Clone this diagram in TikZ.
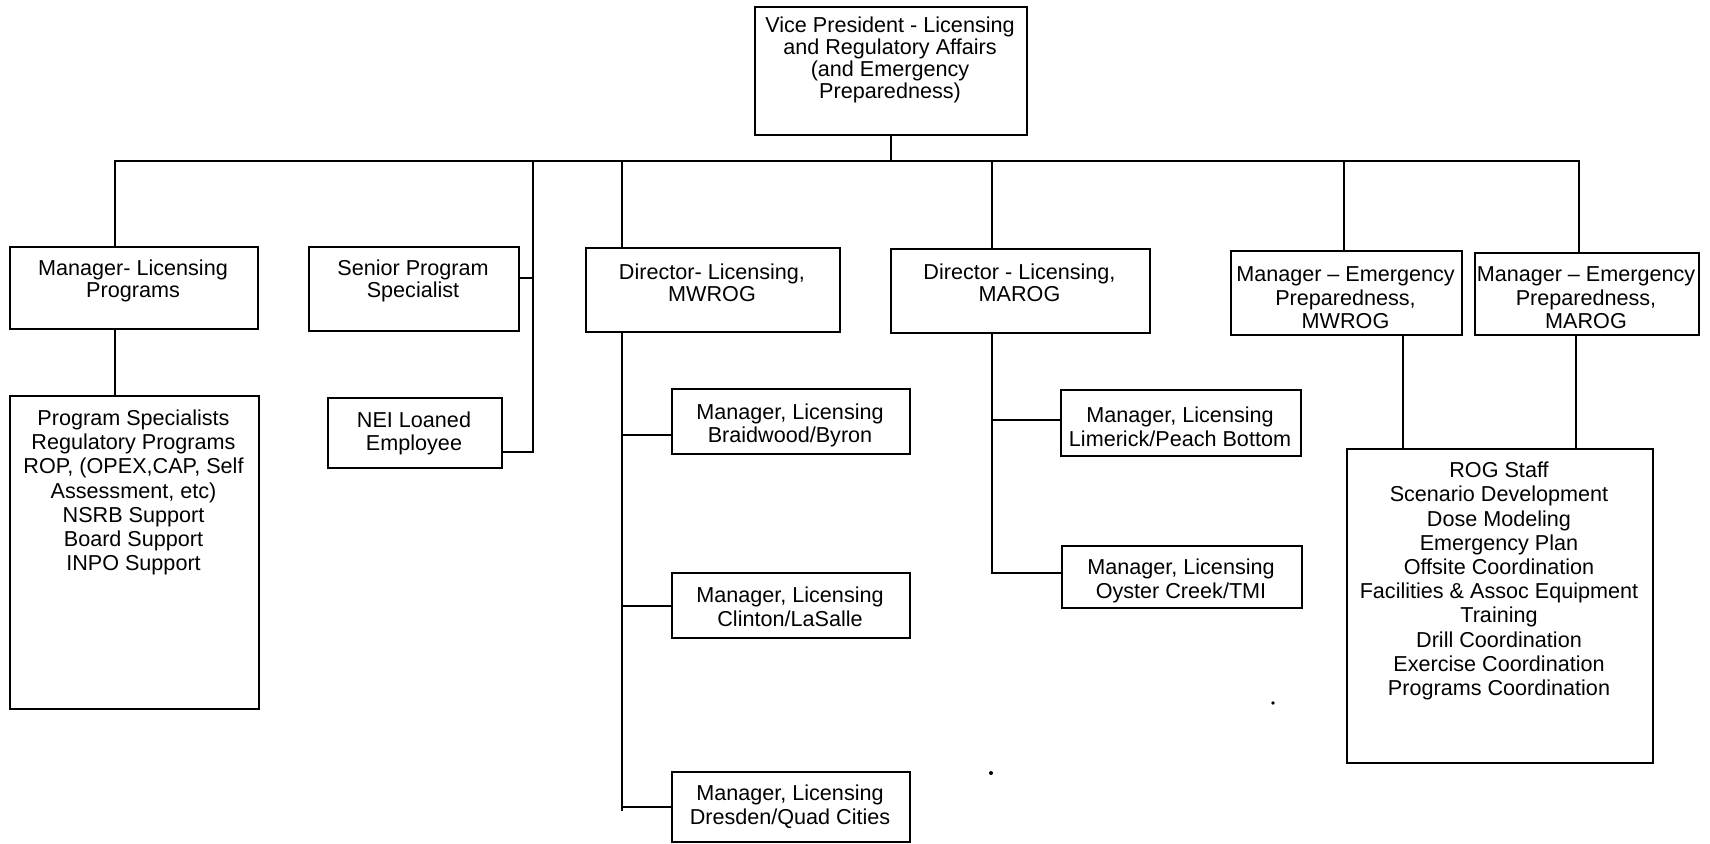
\documentclass[tikz,border=0pt]{standalone}
\usepackage{fontspec}
\setmainfont{Liberation Sans}
\usetikzlibrary{calc}
\tikzset{
  x=1pt, y=-1pt,
  box/.style={draw, line width=2.3pt, inner sep=0pt, anchor=north west},
  txt/.style={align=center, inner sep=0pt, font=\fontsize{21.6}{22}\selectfont},
  txtb/.style={align=center, inner sep=0pt, font=\fontsize{21.6}{23.5}\selectfont},
  txtl/.style={align=center, inner sep=0pt, font=\fontsize{21.6}{24.2}\selectfont},
  conn/.style={line width=2.3pt, line cap=rect},
}
\begin{document}
\begin{tikzpicture}
\useasboundingbox (0,0) rectangle (1710,843);
\fill[white] (0,0) rectangle (1710,843);

% boxes
\node[box, minimum width=272pt, minimum height=128pt] (vp)  at (754,6) {};
\node[box, minimum width=248pt, minimum height=82pt]  (b1)  at (9,246) {};
\node[box, minimum width=210pt, minimum height=84pt]  (b2)  at (308,246) {};
\node[box, minimum width=254pt, minimum height=84pt]  (b3)  at (585,247) {};
\node[box, minimum width=259pt, minimum height=84pt]  (b4)  at (890,248) {};
\node[box, minimum width=231pt, minimum height=84pt]  (b5)  at (1230,250) {};
\node[box, minimum width=224pt, minimum height=82pt]  (b6)  at (1474,252) {};
\node[box, minimum width=249pt, minimum height=313pt] (ps)  at (9,395) {};
\node[box, minimum width=174pt, minimum height=70pt]  (nei) at (327,397) {};
\node[box, minimum width=238pt, minimum height=65pt]  (bw)  at (671,388) {};
\node[box, minimum width=238pt, minimum height=65pt]  (cl)  at (671,572) {};
\node[box, minimum width=238pt, minimum height=70pt]  (dr)  at (671,771) {};
\node[box, minimum width=240pt, minimum height=66pt]  (lim) at (1060,389) {};
\node[box, minimum width=240pt, minimum height=62pt]  (oy)  at (1061,545) {};
\node[box, minimum width=306pt, minimum height=314pt] (rog) at (1346,448) {};

% texts
\node[txt] (vpt) at (890,60) {Vice President - Licensing\\and Regulatory Affairs\\(and Emergency\\Preparedness)};
\node[txt] (b1t) at (133,281) {Manager- Licensing\\Programs};
\node[txt] (b2t) at (413,281) {Senior Program\\Specialist};
\node[txt] (b3t) at (712,283) {Director- Licensing,\\MWROG};
\node[txt] (b4t) at (1019.5,283) {Director - Licensing,\\MAROG};
\node[txtb] (b5t) at (1345.5,298) {Manager -- Emergency\\Preparedness,\\MWROG};
\node[txtb] (b6t) at (1586,298) {Manager -- Emergency\\Preparedness,\\MAROG};
\node[txtl] (pst) at (133.5,492.5) {Program Specialists\\Regulatory Programs\\ROP, (OPEX,CAP, Self\\Assessment, etc)\\NSRB Support\\Board Support\\INPO Support};
\node[txtb] (neit) at (414,433.5) {NEI Loaned\\Employee};
\node[txtb] (bwt) at (790,425.5) {Manager, Licensing\\Braidwood/Byron};
\node[txtb] (clt) at (790,607) {Manager, Licensing\\Clinton/LaSalle};
\node[txtb] (drt) at (790,806.5) {Manager, Licensing\\Dresden/Quad Cities};
\node[txtb] (limt) at (1180,427) {Manager, Licensing\\Limerick/Peach Bottom};
\node[txtb] (oyt) at (1181,581) {Manager, Licensing\\Oyster Creek/TMI};
\node[txtl] (rogt) at (1499,581) {ROG Staff\\Scenario Development\\Dose Modeling\\Emergency Plan\\Offsite Coordination\\Facilities \& Assoc Equipment\\Training\\Drill Coordination\\Exercise Coordination\\Programs Coordination};

% junction coordinates on the main bus
\coordinate (jA) at (115,161);
\coordinate (jB) at (533,161);
\coordinate (jC) at (622,161);
\coordinate (jD) at (992,161);
\coordinate (jE) at (1344,161);
\coordinate (jF) at (1579,161);
\coordinate (kE) at (1403,340);
\coordinate (kF) at (1576,340);

% connectors
\draw[conn] (jA |- b1.north) -- (jA) -- (jF) -- (jF |- b6.north);
\draw[conn] (vp.south) -- (vp.south |- jA);
\draw[conn] (jA |- b1.south) -- (jA |- ps.north);

\coordinate (b2s) at ($(b2.north east)+(0,32)$);
\coordinate (neis) at ($(nei.south east)+(0,-17)$);
\draw[conn] (jB) -- (jB |- neis) -- (neis);
\draw[conn] (b2s) -- (b2s -| jB);

\draw[conn] (jC) -- (jC |- b3.north);
\coordinate (bws) at ($(bw.north west)+(0,47)$);
\draw[conn] (jC |- b3.south) -- ($(jC |- dr.west)+(0,3)$);
\draw[conn] (jC |- bws) -- (bws);
\draw[conn] (jC |- cl.west) -- (cl.west);
\draw[conn] (jC |- dr.west) -- (dr.west);

\draw[conn] (jD) -- (jD |- b4.north);
\coordinate (lims) at ($(lim.west)+(0,-3)$);
\coordinate (oys) at ($(oy.west)+(0,-4)$);
\draw[conn] (jD |- b4.south) -- (jD |- oys) -- (oys);
\draw[conn] (jD |- lims) -- (lims);

\draw[conn] (jE) -- (jE |- b5.north);
\draw[conn] (kE |- b5.south) -- (kE |- rog.north);
\draw[conn] (kF |- b6.south) -- (kF |- rog.north);

% small specks
\fill (991,773) circle (2);
\fill (1273,703) circle (1.8);
\end{tikzpicture}
\end{document}
